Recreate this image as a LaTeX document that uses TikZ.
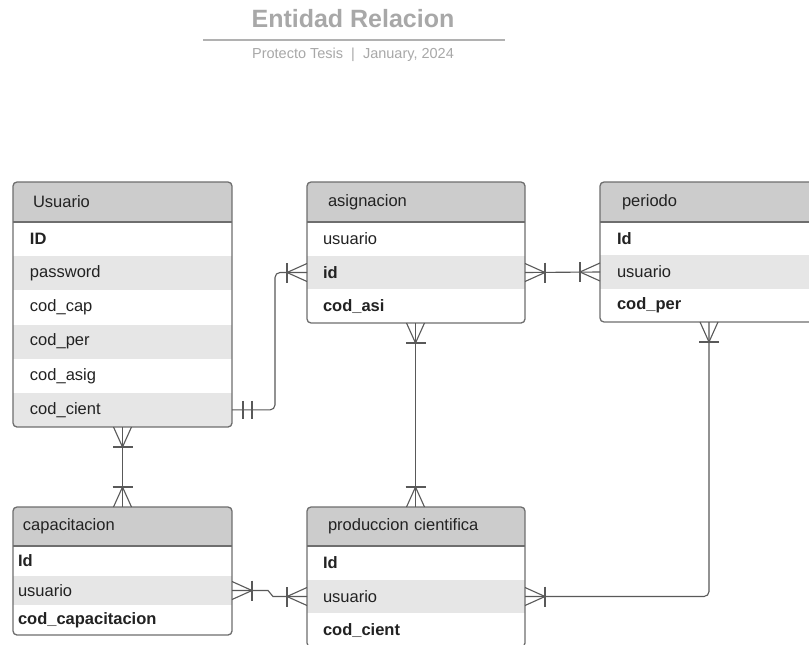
\documentclass[tikz,border=0pt]{standalone}
\usepackage{fontspec}
\setmainfont{Liberation Sans}
\definecolor{hdrgray}{HTML}{CCCCCC}
\definecolor{rowgray}{HTML}{E6E6E6}
\definecolor{edgegray}{HTML}{6E6E6E}
\definecolor{linegray}{HTML}{595959}
\definecolor{txt}{HTML}{222222}
\definecolor{ttl}{HTML}{A8A8A8}
\tikzset{
  conn/.style={draw=linegray, line width=1.1},
  entbox/.style={rectangle, draw=none, inner sep=0, outer sep=0, anchor=north west},
  boxframe/.style={draw=edgegray, line width=1.3, rounded corners=4},
  cell/.style={rectangle, anchor=north west, inner xsep=#1, inner ysep=0, outer sep=0,
    align=left, text=txt, font=\fontsize{16.5}{18}\selectfont},
  pics/crowfoot/.style={code={
    \draw[conn] (20,-10) -- (20,10);
    \draw[conn] (0,9) -- (20,0) -- (0,-9);
  }},
  pics/onlyone/.style={code={
    \draw[conn] (11,-9) -- (11,9) (20,-9) -- (20,9);
  }},
}
\begin{document}
\begin{tikzpicture}[x=1pt,y=-1pt]
\useasboundingbox (0,0) rectangle (809,645);
\clip (0,0) rectangle (809,645);
\fill[white] (0,0) rectangle (809,645);

% Title
\node[font=\fontsize{25}{30}\selectfont\bfseries, text=ttl] (title) at (353,19) {Entidad Relacion};
\coordinate (tl) at (203,40);
\coordinate (tr) at (505,40);
\draw[draw=ttl!90, line width=2] (tl) -- (tr);
\node[font=\fontsize{14.5}{17}\selectfont, text=ttl] (subtitle) at (353,55) {Protecto Tesis\ \ |\ \ January, 2024};

% ---------- Usuario ----------
\node[entbox, minimum width=219, minimum height=245] (usuario) at (13,182) {};
\begin{scope}
\clip[rounded corners=4] (usuario.north west) rectangle (usuario.south east);
\node[cell=20, fill=hdrgray, text width=179, minimum height=40] (usuario-h) at (usuario.north west) {Usuario};
\node[cell=17, fill=white, text width=185, minimum height=34.17] (usuario-r1) at (usuario-h.south west) {\textbf{ID}};
\node[cell=17, fill=rowgray, text width=185, minimum height=34.17] (usuario-r2) at (usuario-r1.south west) {password};
\node[cell=17, fill=white, text width=185, minimum height=34.17] (usuario-r3) at (usuario-r2.south west) {cod\_cap};
\node[cell=17, fill=rowgray, text width=185, minimum height=34.17] (usuario-r4) at (usuario-r3.south west) {cod\_per};
\node[cell=17, fill=white, text width=185, minimum height=34.17] (usuario-r5) at (usuario-r4.south west) {cod\_asig};
\node[cell=17, fill=rowgray, text width=185, minimum height=34.17] (usuario-r6) at (usuario-r5.south west) {cod\_cient};
\end{scope}
\draw[boxframe] (usuario.north west) rectangle (usuario.south east);
\draw[draw=edgegray, line width=1.3] (usuario-h.south west) -- (usuario-h.south east);

% ---------- asignacion ----------
\node[entbox, minimum width=218, minimum height=141] (asig) at (307,182) {};
\begin{scope}
\clip[rounded corners=4] (asig.north west) rectangle (asig.south east);
\node[cell=21, fill=hdrgray, text width=176, minimum height=40] (asig-h) at (asig.north west) {asignacion};
\node[cell=16, fill=white, text width=186, minimum height=33.67] (asig-r1) at (asig-h.south west) {usuario};
\node[cell=16, fill=rowgray, text width=186, minimum height=33.67] (asig-r2) at (asig-r1.south west) {\textbf{id}};
\node[cell=16, fill=white, text width=186, minimum height=33.67] (asig-r3) at (asig-r2.south west) {\textbf{cod\_asi}};
\end{scope}
\draw[boxframe] (asig.north west) rectangle (asig.south east);
\draw[draw=edgegray, line width=1.3] (asig-h.south west) -- (asig-h.south east);

% ---------- periodo ----------
\node[entbox, minimum width=230, minimum height=140] (periodo) at (600,182) {};
\begin{scope}
\clip[rounded corners=4] (periodo.north west) rectangle (periodo.south east);
\node[cell=22, fill=hdrgray, text width=186, minimum height=40] (periodo-h) at (periodo.north west) {periodo};
\node[cell=17, fill=white, text width=196, minimum height=33.33] (periodo-r1) at (periodo-h.south west) {\textbf{Id}};
\node[cell=17, fill=rowgray, text width=196, minimum height=33.33] (periodo-r2) at (periodo-r1.south west) {usuario};
\node[cell=17, fill=white, text width=196, minimum height=33.33] (periodo-r3) at (periodo-r2.south west) {\textbf{cod\_per}};
\end{scope}
\draw[boxframe] (periodo.north west) rectangle (periodo.south east);
\draw[draw=edgegray, line width=1.3] (periodo-h.south west) -- (periodo-h.south east);

% ---------- capacitacion ----------
\node[entbox, minimum width=219, minimum height=128] (cap) at (13,507) {};
\begin{scope}
\clip[rounded corners=4] (cap.north west) rectangle (cap.south east);
\node[cell=10, fill=hdrgray, text width=199, minimum height=39] (cap-h) at (cap.north west) {capacitacion};
\node[cell=5, fill=white, text width=209, minimum height=29.67] (cap-r1) at (cap-h.south west) {\textbf{Id}};
\node[cell=5, fill=rowgray, text width=209, minimum height=29.67] (cap-r2) at (cap-r1.south west) {usuario};
\node[cell=5, fill=white, text width=209, minimum height=29.67] (cap-r3) at (cap-r2.south west) {\textbf{cod\_capacitacion}};
\end{scope}
\draw[boxframe] (cap.north west) rectangle (cap.south east);
\draw[draw=edgegray, line width=1.3] (cap-h.south west) -- (cap-h.south east);

% ---------- produccion cientifica ----------
\node[entbox, minimum width=218, minimum height=140] (prod) at (307,507) {};
\begin{scope}
\clip[rounded corners=4] (prod.north west) rectangle (prod.south east);
\node[cell=21, fill=hdrgray, text width=176, minimum height=39] (prod-h) at (prod.north west) {produccion cientifica};
\node[cell=16, fill=white, text width=186, minimum height=33.67] (prod-r1) at (prod-h.south west) {\textbf{Id}};
\node[cell=16, fill=rowgray, text width=186, minimum height=33.67] (prod-r2) at (prod-r1.south west) {usuario};
\node[cell=16, fill=white, text width=186, minimum height=33.67] (prod-r3) at (prod-r2.south west) {\textbf{cod\_cient}};
\end{scope}
\draw[boxframe] (prod.north west) rectangle (prod.south east);
\draw[draw=edgegray, line width=1.3] (prod-h.south west) -- (prod-h.south east);

% ---------- connectors ----------
% Usuario -- asignacion
\draw[conn, rounded corners=5] (usuario-r6.east) -- ++(43,0) |- (asig-r2.west);
\pic at (usuario-r6.east) {onlyone};
\pic[rotate=180] at (asig-r2.west) {crowfoot};

% asignacion -- periodo
\draw[conn] (asig-r2.east) -- (periodo-r2.west);
\pic at (asig-r2.east) {crowfoot};
\pic[rotate=180] at (periodo-r2.west) {crowfoot};

% asignacion -- produccion
\coordinate (asigB) at ([xshift=-0.5]asig.south);
\coordinate (prodT) at ([xshift=-0.5]prod.north);
\draw[conn] (asigB) -- (prodT);
\pic[rotate=-90] at (asigB) {crowfoot};
\pic[rotate=90] at (prodT) {crowfoot};

% periodo -- produccion
\coordinate (perB) at ([xshift=109]periodo.south west);
\draw[conn, rounded corners=5] (perB) |- (prod-r2.east);
\pic[rotate=-90] at (perB) {crowfoot};
\pic at (prod-r2.east) {crowfoot};

% Usuario -- capacitacion
\draw[conn] (usuario.south) -- (cap.north);
\pic[rotate=-90] at (usuario.south) {crowfoot};
\pic[rotate=90] at (cap.north) {crowfoot};

% capacitacion -- produccion
\draw[conn] (cap-r2.east) -- ++(36,0) -- ++(5,6) -- (prod-r2.west);
\pic at (cap-r2.east) {crowfoot};
\pic[rotate=180] at (prod-r2.west) {crowfoot};
\end{tikzpicture}
\end{document}
